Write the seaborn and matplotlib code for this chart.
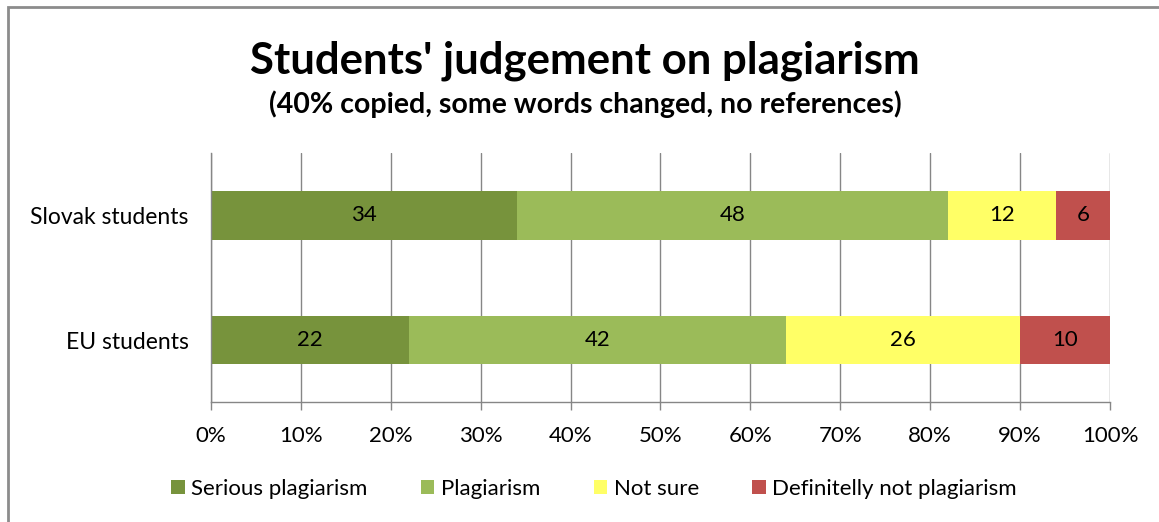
import numpy as np
import pandas as pd
import matplotlib.pyplot as plt
import seaborn as sns
from matplotlib.patches import Rectangle, Patch
from matplotlib.ticker import FixedLocator

# data
groups = ["Slovak students", "EU students"]
categories = ["Serious plagiarism", "Plagiarism", "Not sure", "Definitelly not plagiarism"]
serious = [34, 22]
plagiarism = [48, 42]
not_sure = [12, 26]
not_plag = [6, 10]
colors = ["#77933C", "#9BBB59", "#FFFF66", "#C0504D"]

sns.set_style("white")
plt.rcParams['font.family'] = ['Lato', 'DejaVu Sans']
plt.rcParams['text.color'] = 'black'
plt.rcParams['xtick.labelcolor'] = 'black'
plt.rcParams['ytick.labelcolor'] = 'black'

values = np.array([serious, plagiarism, not_sure, not_plag])
cum = values.cumsum(axis=0)

fig = plt.figure(figsize=(11.59, 5.22), dpi=100)
ax = fig.add_axes([0.182, 0.229, 0.7757, 0.478])

# stacked bars: draw the widest cumulative layer first
for i in reversed(range(len(categories))):
    df = pd.DataFrame({"group": groups, "value": cum[i]})
    sns.barplot(data=df, x="value", y="group", orient="h", color=colors[i],
                width=0.39, saturation=1, ax=ax, edgecolor="none")

# value labels in the middle of each segment
for i in range(len(categories)):
    for j in range(len(groups)):
        ax.text(cum[i][j] - values[i][j] / 2, j, str(values[i][j]),
                ha="center", va="center", fontsize=16, color="black")

ax.set_xlim(0, 100)
ax.set_ylim(1.5, -0.5)
ax.set_xticks(range(0, 101, 10))
ax.set_xticklabels([f"{t}%" for t in range(0, 101, 10)], fontsize=16)
ax.set_xlabel("")
ax.set_ylabel("")
ax.tick_params(axis="y", which="major", length=0, labelsize=16.5, pad=16)
ax.yaxis.set_minor_locator(FixedLocator([-0.5, 0.5, 1.5]))
ax.tick_params(axis="y", which="minor", length=6, color="#868686", width=1)
ax.tick_params(axis="x", length=6, color="#868686", width=1, pad=11, bottom=True)
ax.grid(axis="x", color="#868686", linewidth=1)
ax.set_axisbelow(True)
for s in ["top", "right"]:
    ax.spines[s].set_visible(False)
for s in ["left", "bottom"]:
    ax.spines[s].set_color("#868686")
    ax.spines[s].set_linewidth(1)

fig.text(0.505, 0.883, "Students' judgement on plagiarism", ha="center", va="center",
         fontsize=31.5, fontweight="bold")
fig.text(0.505, 0.800, "(40% copied, some words changed, no references)", ha="center",
         va="center", fontsize=20.5, fontweight="bold")

handles = [Patch(facecolor=c, edgecolor="none") for c in colors]
fig.legend(handles, categories, loc="center", bbox_to_anchor=(0.5125, 0.063), ncol=4,
           frameon=False, fontsize=16, handlelength=0.6, handleheight=0.6,
           handletextpad=0.3, columnspacing=2.4)

# outer chart border
fig.patches.append(Rectangle((8 / 1159, -0.1), 1.2, 1 - 7 / 522 + 0.1, transform=fig.transFigure,
                             fill=False, edgecolor="#8c8c8c", linewidth=2))

fig.savefig("out.png", dpi=100)
